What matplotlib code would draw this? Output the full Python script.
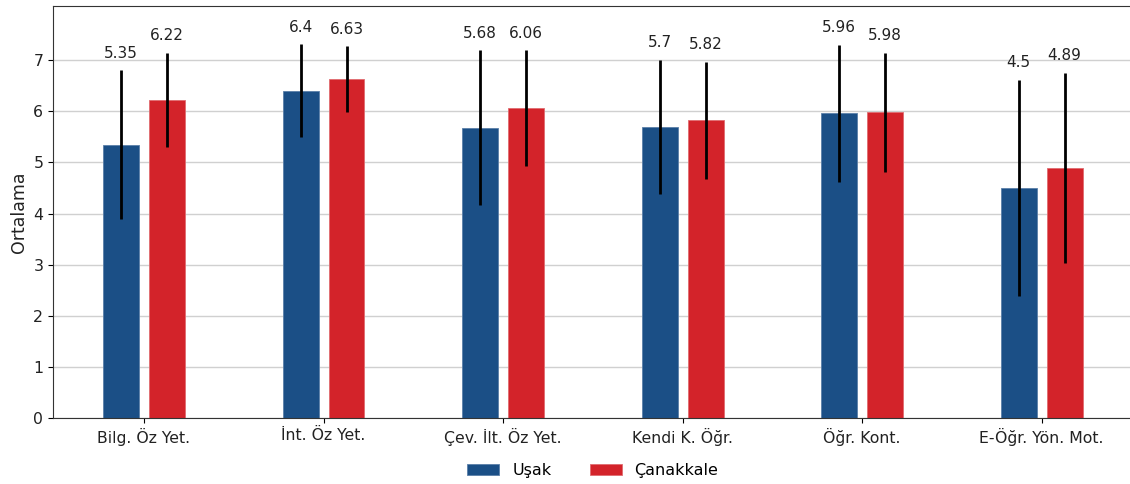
import numpy as np
import matplotlib.pyplot as plt

# Boyut kisaltmalari ve iki il icin ortalama / standart sapma
categories = ["Bilg. Öz Yet.", "İnt. Öz Yet.", "Çev. İlt. Öz Yet.",
              "Kendi K. Öğr.", "Öğr. Kont.", "E-Öğr. Yön. Mot."]
usak_mean = [5.35, 6.40, 5.68, 5.70, 5.96, 4.50]
usak_sd = [1.45, 0.91, 1.51, 1.31, 1.34, 2.12]
canakkale_mean = [6.22, 6.63, 6.06, 5.82, 5.98, 4.89]
canakkale_sd = [0.92, 0.64, 1.13, 1.15, 1.17, 1.86]

blue = "#1b4f86"
red = "#d3232a"

fig = plt.figure(figsize=(11.3, 4.84), dpi=100)
ax = fig.add_axes([0.0469, 0.1364, 0.9555, 0.8512])

x = np.arange(len(categories))
w = 0.2
off = 0.128

ax.bar(x - off, usak_mean, w, color=blue, edgecolor="#5a7fa8", linewidth=0.6,
       label="Uşak", zorder=2)
ax.bar(x + off, canakkale_mean, w, color=red, edgecolor="#e06b70", linewidth=0.6,
       label="Çanakkale", zorder=2)
ax.errorbar(x - off, usak_mean, yerr=usak_sd, fmt="none", ecolor="black",
            elinewidth=2, capsize=0, zorder=3)
ax.errorbar(x + off, canakkale_mean, yerr=canakkale_sd, fmt="none", ecolor="black",
            elinewidth=2, capsize=0, zorder=3)

for i in range(len(categories)):
    ax.text(x[i] - off, usak_mean[i] + usak_sd[i] + 0.19, f"{usak_mean[i]:g}",
            ha="center", va="bottom", fontsize=11, color="#222222")
    ax.text(x[i] + off, canakkale_mean[i] + canakkale_sd[i] + 0.19, f"{canakkale_mean[i]:g}",
            ha="center", va="bottom", fontsize=11, color="#222222")

ax.set_xticks(x)
ax.set_xticklabels(categories, fontsize=11.3, color="#222222")
ax.set_xlim(-0.507, 5.507)
ax.set_ylim(0, 8.06)
ax.set_yticks(range(0, 8))
ax.tick_params(axis="y", labelsize=11.3, labelcolor="#222222")
ax.set_ylabel("Ortalama", fontsize=12.5, color="#222222")
ax.yaxis.grid(True, color="#d0d0d0", linewidth=1, zorder=0)
ax.set_axisbelow(True)
for s in ax.spines.values():
    s.set_color("#333333")
ax.spines["right"].set_visible(False)

ax.legend(loc="upper center", bbox_to_anchor=(0.5, -0.075), ncol=2, frameon=False,
          fontsize=11.5, handlelength=2.0, columnspacing=2.4)

fig.savefig("out.png", dpi=100)
